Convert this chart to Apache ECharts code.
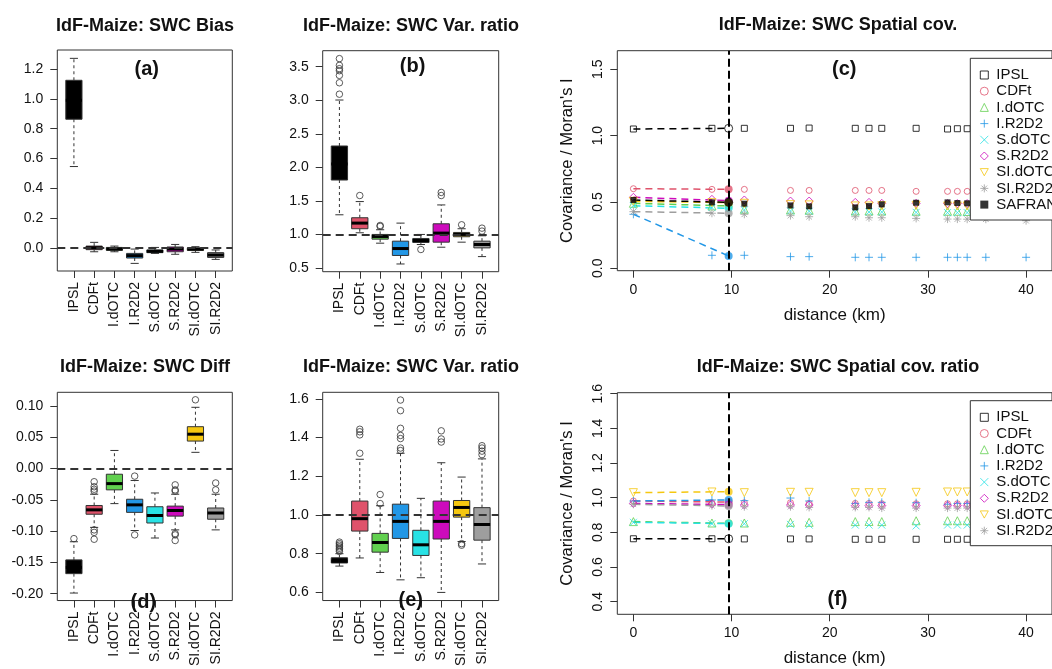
<!DOCTYPE html>
<html>
<head>
<meta charset="utf-8">
<title>IdF-Maize SWC diagnostics</title>
<script src="https://cdn.jsdelivr.net/npm/echarts@6/dist/echarts.min.js"></script>
<style>
  html, body { margin: 0; padding: 0; background: #ffffff; }
  #chart { width: 1052px; height: 669px; }
</style>
</head>
<body>
<div id="chart"></div>
<script>
// ---------------------------------------------------------------------------
// Data
// ---------------------------------------------------------------------------
const methods = ['IPSL', 'CDFt', 'I.dOTC', 'I.R2D2', 'S.dOTC', 'S.R2D2', 'SI.dOTC', 'SI.R2D2'];

// Box statistics per method: [lower whisker, Q1, median, Q3, upper whisker]
const biasStats = [
  [0.546, 0.863, 0.990, 1.124, 1.271],
  [-0.025, -0.011, 0.002, 0.013, 0.038],
  [-0.025, -0.015, -0.007, 0.004, 0.013],
  [-0.103, -0.067, -0.051, -0.036, -0.007],
  [-0.036, -0.031, -0.022, -0.013, 0.004],
  [-0.042, -0.025, -0.007, 0.007, 0.024],
  [-0.029, -0.016, -0.007, 0.000, 0.009],
  [-0.076, -0.063, -0.047, -0.031, -0.013]
];
const biasOutliers = [[], [], [], [], [], [], [], []];

const varStats = [
  [1.293, 1.811, 2.050, 2.318, 3.003],
  [1.025, 1.085, 1.169, 1.249, 1.490],
  [0.870, 0.930, 0.970, 1.000, 1.070],
  [0.560, 0.687, 0.790, 0.900, 1.169],
  [0.850, 0.880, 0.910, 0.940, 1.000],
  [0.810, 0.885, 1.020, 1.159, 1.440],
  [0.885, 0.966, 1.000, 1.030, 1.085],
  [0.670, 0.800, 0.850, 0.900, 0.980]
];
const varOutliers = [
  [3.62, 3.52, 3.47, 3.44, 3.37, 3.26, 3.09],
  [1.58],
  [1.134, 1.12],
  [],
  [0.776],
  [1.626, 1.58],
  [1.144],
  [1.094, 1.05]
];

const diffStats = [
  [-0.199, -0.168, -0.158, -0.146, -0.117],
  [-0.094, -0.073, -0.066, -0.059, -0.041],
  [-0.056, -0.034, -0.024, -0.009, 0.029],
  [-0.099, -0.070, -0.058, -0.049, -0.019],
  [-0.111, -0.087, -0.075, -0.061, -0.039],
  [-0.098, -0.076, -0.067, -0.060, -0.041],
  [0.026, 0.044, 0.055, 0.067, 0.098],
  [-0.098, -0.081, -0.071, -0.063, -0.041]
];
const diffOutliers = [
  [-0.112],
  [-0.021, -0.029, -0.033, -0.036, -0.098, -0.102, -0.113],
  [],
  [-0.012, -0.106],
  [],
  [-0.026, -0.034, -0.036, -0.104, -0.106, -0.115],
  [0.110],
  [-0.023, -0.034]
];

const ratioStats = [
  [0.736, 0.752, 0.762, 0.779, 0.800],
  [0.778, 0.917, 0.981, 1.072, 1.288],
  [0.703, 0.808, 0.858, 0.905, 1.048],
  [0.665, 0.879, 0.967, 1.056, 1.319],
  [0.676, 0.791, 0.846, 0.921, 1.086],
  [0.600, 0.876, 0.967, 1.072, 1.270],
  [0.863, 0.989, 1.039, 1.075, 1.196],
  [0.747, 0.870, 0.951, 1.038, 1.290]
];
const ratioOutliers = [
  [0.812, 0.820, 0.828, 0.836, 0.844, 0.852, 0.860],
  [1.443, 1.430, 1.414, 1.319],
  [1.106, 1.059],
  [1.594, 1.539, 1.448, 1.411, 1.395, 1.346, 1.333],
  [],
  [1.435, 1.393, 1.377],
  [0.852, 0.844],
  [1.358, 1.346, 1.330, 1.312]
];

// Spatial covariance by distance class (km)
const distances = [0, 8.0, 11.3, 16.0, 17.9, 22.6, 24.0, 25.3, 28.8, 32.0, 33.0, 34.0, 35.9, 40.0];
const meanDistance = 9.7;

const covIPSL   = [1.050, 1.055, 1.055, 1.055, 1.057, 1.055, 1.055, 1.055, 1.055, 1.050, 1.052, 1.052, 1.052, 1.052];
const covCDFt   = [0.600, 0.595, 0.595, 0.587, 0.587, 0.587, 0.587, 0.587, 0.580, 0.580, 0.580, 0.580, 0.578, 0.578];
const covIdOTC  = [0.490, 0.470, 0.445, 0.440, 0.438, 0.432, 0.432, 0.432, 0.430, 0.430, 0.430, 0.428, 0.428, 0.426];
const covIR2D2  = [0.407, 0.098, 0.098, 0.088, 0.088, 0.083, 0.083, 0.083, 0.083, 0.083, 0.083, 0.083, 0.083, 0.083];
const covSdOTC  = [0.472, 0.458, 0.440, 0.432, 0.430, 0.425, 0.425, 0.425, 0.422, 0.420, 0.420, 0.420, 0.418, 0.418];
const covSR2D2  = [0.535, 0.520, 0.515, 0.507, 0.507, 0.497, 0.497, 0.490, 0.490, 0.488, 0.488, 0.488, 0.486, 0.486];
const covSIdOTC = [0.505, 0.495, 0.490, 0.480, 0.478, 0.470, 0.470, 0.472, 0.475, 0.470, 0.470, 0.470, 0.468, 0.468];
const covSIR2D2 = [0.427, 0.415, 0.407, 0.397, 0.389, 0.389, 0.381, 0.381, 0.376, 0.371, 0.371, 0.370, 0.370, 0.359];
const covSAFRAN = [0.515, 0.497, 0.487, 0.474, 0.467, 0.459, 0.469, 0.482, 0.494, 0.497, 0.492, 0.490, 0.490, 0.490];
// Values at the mean neighbour distance, same order as the legend
const covAtMean = [1.055, 0.595, 0.470, 0.093, 0.452, 0.510, 0.495, 0.415, 0.497];

// Spatial covariance ratio (method / SAFRAN)
const ratioIPSL   = [0.763, 0.763, 0.762, 0.762, 0.762, 0.760, 0.760, 0.760, 0.760, 0.760, 0.760, 0.760, 0.760, 0.760];
const ratioCDFt   = [0.981, 0.971, 0.971, 0.971, 0.967, 0.967, 0.967, 0.965, 0.965, 0.965, 0.965, 0.965, 0.965, 0.965];
const ratioIdOTC  = [0.862, 0.854, 0.854, 0.858, 0.858, 0.862, 0.863, 0.862, 0.867, 0.867, 0.867, 0.867, 0.867, 0.867];
const ratioIR2D2  = [0.981, 0.987, 0.983, 0.998, 0.981, 0.967, 0.973, 0.973, 0.971, 0.962, 0.967, 0.967, 0.967, 0.967];
const ratioSdOTC  = [0.858, 0.850, 0.850, 0.846, 0.842, 0.842, 0.842, 0.842, 0.837, 0.842, 0.842, 0.842, 0.842, 0.842];
const ratioSR2D2  = [0.967, 0.963, 0.958, 0.958, 0.958, 0.954, 0.954, 0.954, 0.954, 0.954, 0.954, 0.954, 0.954, 0.954];
const ratioSIdOTC = [1.029, 1.033, 1.029, 1.031, 1.031, 1.029, 1.029, 1.029, 1.031, 1.033, 1.033, 1.033, 1.033, 1.033];
const ratioSIR2D2 = [0.962, 0.954, 0.948, 0.948, 0.944, 0.944, 0.944, 0.940, 0.940, 0.940, 0.940, 0.940, 0.940, 0.940];
const ratioAtMean = [0.763, 0.975, 0.852, 0.987, 0.850, 0.960, 1.035, 0.952];

// Tick values
const biasTicks = [0, 0.2, 0.4, 0.6, 0.8, 1.0, 1.2];
const varTicks = [0.5, 1.0, 1.5, 2.0, 2.5, 3.0, 3.5];
const diffTicks = [-0.20, -0.15, -0.10, -0.05, 0, 0.05, 0.10];
const ratioTicks = [0.6, 0.8, 1.0, 1.2, 1.4, 1.6];
const covTicks = [0, 0.5, 1.0, 1.5];
const covRatioTicks = [0.4, 0.6, 0.8, 1.0, 1.2, 1.4, 1.6];
const distanceTicks = [0, 10, 20, 30, 40];

// ---------------------------------------------------------------------------
// Styling
// ---------------------------------------------------------------------------
const FONT = '"Liberation Sans", Arial, Helvetica, sans-serif';
const TEXT = '#111111';
const FRAME = '#333333';
const methodColors = ['#000000', '#DF536B', '#61D04F', '#2297E6', '#28E2E5', '#CD0BBC', '#F5C710', '#9E9E9E'];

const spatialNames = methods.concat(['SAFRAN']);
const spatialColors = methodColors.concat(['#000000']);
const PLUS = 'path://M5,0L5,10M0,5L10,5';
const CROSS = 'path://M0,0L10,10M10,0L0,10';
const INV_TRI = 'path://M0,0L10,0L5,9Z';
const STAR = 'path://M5,0L5,10M0,5L10,5M1.5,1.5L8.5,8.5M8.5,1.5L1.5,8.5';
const spatialSymbols = ['rect', 'circle', 'triangle', PLUS, CROSS, 'diamond', INV_TRI, STAR, 'rect'];
const spatialSizes = [6, 6, 8, 8, 7, 8, 8, 8, 6];
const spatialFilled = [false, false, false, false, false, false, false, false, true];

// Plot regions: (a) (b) (c) / (d) (e) (f)
const gridRects = [
  { left: 57.3, top: 50, width: 175, height: 221 },
  { left: 322.7, top: 50.7, width: 176, height: 221 },
  { left: 617.3, top: 50.7, width: 450.7, height: 220 },
  { left: 57.3, top: 392.3, width: 175, height: 221.7 },
  { left: 322.7, top: 392.3, width: 176, height: 222 },
  { left: 617.3, top: 392.7, width: 450.7, height: 221.6 }
];

const boxPanels = [
  { grid: 0, stats: biasStats, outliers: biasOutliers, ref: 0, yMin: -0.154, yMax: 1.327, ticks: biasTicks, digits: 1 },
  { grid: 1, stats: varStats, outliers: varOutliers, ref: 1, yMin: 0.445, yMax: 3.738, ticks: varTicks, digits: 1 },
  { grid: 3, stats: diffStats, outliers: diffOutliers, ref: 0, yMin: -0.211, yMax: 0.122, ticks: diffTicks, digits: 2 },
  { grid: 4, stats: ratioStats, outliers: ratioOutliers, ref: 1, yMin: 0.558, yMax: 1.634, ticks: ratioTicks, digits: 1 }
];

const spatialPanels = [
  { grid: 2, values: [covIPSL, covCDFt, covIdOTC, covIR2D2, covSdOTC, covSR2D2, covSIdOTC, covSIR2D2, covSAFRAN],
    atMean: covAtMean, yMin: -0.018, yMax: 1.64, ticks: covTicks,
    legend: { left: 970.3, top: 58.3, padding: [8.7, 14, 7.4, 7.5] } },
  { grid: 5, values: [ratioIPSL, ratioCDFt, ratioIdOTC, ratioIR2D2, ratioSdOTC, ratioSR2D2, ratioSIdOTC, ratioSIR2D2],
    atMean: ratioAtMean, yMin: 0.327, yMax: 1.606, ticks: covRatioTicks,
    legend: { left: 970.3, top: 400.7, padding: [8.6, 14, 7, 7.5] } }
];

const titles = [
  { x: 145, y: 26, text: 'IdF-Maize: SWC Bias' },
  { x: 411, y: 26, text: 'IdF-Maize: SWC Var. ratio' },
  { x: 838, y: 25, text: 'IdF-Maize: SWC Spatial cov.' },
  { x: 145, y: 367, text: 'IdF-Maize: SWC Diff' },
  { x: 411, y: 367, text: 'IdF-Maize: SWC Var. ratio' },
  { x: 838, y: 367, text: 'IdF-Maize: SWC Spatial cov. ratio' }
];
const panelTags = [
  { x: 146.7, y: 69, text: '(a)' },
  { x: 412.6, y: 66, text: '(b)' },
  { x: 844.3, y: 69.2, text: '(c)' },
  { x: 143.3, y: 602.3, text: '(d)' },
  { x: 410.8, y: 600, text: '(e)' },
  { x: 837.5, y: 599.3, text: '(f)' }
];

// ---------------------------------------------------------------------------
// Option building
// ---------------------------------------------------------------------------
const xAxes = [];
const yAxes = [];
const series = [];
const legends = [];

// Axes sit on the plot frame, never on the zero of the other axis
const hiddenLine = { show: false, onZero: false };

function tickStyle() {
  return { show: true, inside: false, length: 7, lineStyle: { color: FRAME, width: 1 } };
}
function labelStyle(extra) {
  return Object.assign({ show: true, fontSize: 14, fontFamily: FONT, color: TEXT }, extra);
}

// Box-and-whisker glyph drawn through the axis scales
function renderBox(params, api) {
  const x = api.value(0);
  const lo = api.coord([x, api.value(1)]);
  const q1 = api.coord([x, api.value(2)]);
  const md = api.coord([x, api.value(3)]);
  const q3 = api.coord([x, api.value(4)]);
  const hi = api.coord([x, api.value(5)]);
  const boxHalf = api.size([0.8, 0], [x, api.value(3)])[0] / 2;
  const capHalf = boxHalf / 2;
  const cx = md[0];
  const fill = methodColors[params.dataIndex];
  const dashed = { stroke: FRAME, lineWidth: 1, lineDash: [3, 3] };
  const solid = { stroke: FRAME, lineWidth: 1 };
  return {
    type: 'group',
    children: [
      { type: 'line', shape: { x1: cx, y1: q3[1], x2: cx, y2: hi[1] }, style: dashed },
      { type: 'line', shape: { x1: cx, y1: q1[1], x2: cx, y2: lo[1] }, style: dashed },
      { type: 'line', shape: { x1: cx - capHalf, y1: hi[1], x2: cx + capHalf, y2: hi[1] }, style: solid },
      { type: 'line', shape: { x1: cx - capHalf, y1: lo[1], x2: cx + capHalf, y2: lo[1] }, style: solid },
      { type: 'rect', shape: { x: cx - boxHalf, y: q3[1], width: 2 * boxHalf, height: q1[1] - q3[1] },
        style: { fill: fill, stroke: FRAME, lineWidth: 1 } },
      { type: 'line', shape: { x1: cx - boxHalf, y1: md[1], x2: cx + boxHalf, y2: md[1] },
        style: { stroke: '#000000', lineWidth: 3 } }
    ]
  };
}

const methodPositions = methods.map((m, i) => i + 1);

boxPanels.forEach(p => {
  xAxes[p.grid] = {
    type: 'value', gridIndex: p.grid, min: 0.18, max: 8.82,
    axisLine: hiddenLine, splitLine: { show: false },
    axisTick: Object.assign(tickStyle(), { customValues: methodPositions }),
    axisLabel: labelStyle({
      customValues: methodPositions, rotate: 90, margin: 11,
      formatter: v => methods[Math.round(v) - 1]
    })
  };
  yAxes[p.grid] = {
    type: 'value', gridIndex: p.grid, min: p.yMin, max: p.yMax,
    axisLine: hiddenLine, splitLine: { show: false },
    axisTick: Object.assign(tickStyle(), { customValues: p.ticks }),
    axisLabel: labelStyle({ customValues: p.ticks, margin: 14, formatter: v => v.toFixed(p.digits) })
  };
  series.push({
    type: 'custom', xAxisIndex: p.grid, yAxisIndex: p.grid,
    renderItem: renderBox,
    encode: { x: 0, y: [1, 2, 3, 4, 5] },
    data: p.stats.map((s, i) => [i + 1].concat(s)),
    silent: true, z: 2
  });
  const outlierPoints = [];
  p.outliers.forEach((list, i) => list.forEach(v => outlierPoints.push([i + 1, v])));
  series.push({
    type: 'scatter', xAxisIndex: p.grid, yAxisIndex: p.grid,
    data: outlierPoints, symbol: 'circle', symbolSize: 6.5,
    itemStyle: { color: 'none', borderColor: FRAME, borderWidth: 1 },
    silent: true, z: 3,
    markLine: {
      silent: true, symbol: 'none', label: { show: false }, z: 5,
      lineStyle: { color: FRAME, width: 2, type: [8, 5] },
      emphasis: { disabled: true },
      data: [{ yAxis: p.ref }]
    }
  });
});

spatialPanels.forEach(p => {
  const g = p.grid;
  const count = p.values.length;
  xAxes[g] = {
    type: 'value', gridIndex: g, min: -1.64, max: 42.64,
    axisLine: hiddenLine, splitLine: { show: false },
    axisTick: Object.assign(tickStyle(), { customValues: distanceTicks }),
    axisLabel: labelStyle({ customValues: distanceTicks, margin: 12, formatter: v => String(Math.round(v)) }),
    name: 'distance (km)', nameLocation: 'middle', nameGap: 36,
    nameTextStyle: { fontSize: 17, fontFamily: FONT, color: TEXT }
  };
  yAxes[g] = {
    type: 'value', gridIndex: g, min: p.yMin, max: p.yMax,
    axisLine: hiddenLine, splitLine: { show: false },
    axisTick: Object.assign(tickStyle(), { customValues: p.ticks }),
    axisLabel: labelStyle({ customValues: p.ticks, rotate: 90, margin: 12, formatter: v => v.toFixed(1) }),
    name: "Covariance / Moran's I", nameLocation: 'middle', nameGap: 41, nameRotate: 90,
    nameTextStyle: { fontSize: 16.5, fontFamily: FONT, color: TEXT }
  };

  for (let i = 0; i < count; i++) {
    const col = spatialColors[i];
    // dashed link from the 0 km value to the value at the mean distance
    series.push({
      type: 'line', xAxisIndex: g, yAxisIndex: g, silent: true, z: 2,
      data: [[distances[0], p.values[i][0]], [meanDistance, p.atMean[i]]],
      symbol: 'none', lineStyle: { color: col, width: 1.5, type: [7, 5] }
    });
    series.push({
      type: 'scatter', name: spatialNames[i], xAxisIndex: g, yAxisIndex: g, silent: true, z: 3,
      data: distances.map((d, k) => [d, p.values[i][k]]),
      symbol: spatialSymbols[i], symbolSize: spatialSizes[i],
      itemStyle: spatialFilled[i]
        ? { color: col, borderWidth: 0 }
        : { color: 'none', borderColor: col, borderWidth: 1 }
    });
  }
  // markers at the mean distance
  const atMeanPoints = [];
  for (let i = 1; i < count; i++) {
    atMeanPoints.push({ value: [meanDistance, p.atMean[i]],
      symbolSize: spatialFilled[i] ? 9 : 8, itemStyle: { color: spatialColors[i] } });
  }
  series.push({
    type: 'scatter', xAxisIndex: g, yAxisIndex: g, silent: true, z: 4,
    data: atMeanPoints, symbol: 'circle'
  });
  series.push({
    type: 'scatter', xAxisIndex: g, yAxisIndex: g, silent: true, z: 4,
    data: [[meanDistance, p.atMean[0]]], symbol: 'circle', symbolSize: 8,
    itemStyle: { color: 'none', borderColor: spatialColors[0], borderWidth: 1 },
    markLine: {
      silent: true, symbol: 'none', label: { show: false }, z: 5,
      lineStyle: { color: '#000000', width: 2, type: [8, 4] },
      emphasis: { disabled: true },
      data: [{ xAxis: meanDistance }]
    }
  });

  legends.push({
    show: true, orient: 'vertical', selectedMode: false,
    left: p.legend.left, top: p.legend.top, padding: p.legend.padding,
    itemWidth: 8, itemHeight: 8, itemGap: 0.2,
    backgroundColor: '#ffffff', borderColor: FRAME, borderWidth: 1, borderRadius: 0,
    textStyle: { fontSize: 15, lineHeight: 16, fontFamily: FONT, color: TEXT, padding: [0, 0, 0, 3] },
    z: 10,
    data: spatialNames.slice(0, count).map((n, i) => ({
      name: n,
      icon: spatialSymbols[i],
      itemStyle: spatialFilled[i]
        ? { color: spatialColors[i], borderWidth: 0 }
        : { color: 'none', borderColor: spatialColors[i], borderWidth: 1 }
    }))
  });
});

const graphics = [];
titles.forEach(t => graphics.push({
  type: 'text', x: t.x, y: t.y, silent: true,
  style: { text: t.text, fill: TEXT, fontSize: 18, fontWeight: 'bold', fontFamily: FONT,
           align: 'center', verticalAlign: 'middle', textAlign: 'center', textVerticalAlign: 'middle' }
}));
panelTags.forEach(t => graphics.push({
  type: 'text', x: t.x, y: t.y, silent: true, z: 20,
  style: { text: t.text, fill: TEXT, fontSize: 20, fontWeight: 'bold', fontFamily: FONT,
           align: 'center', verticalAlign: 'middle', textAlign: 'center', textVerticalAlign: 'middle' }
}));

const option = {
  animation: false,
  backgroundColor: '#ffffff',
  textStyle: { fontFamily: FONT },
  grid: gridRects.map(r => Object.assign({ show: true, borderColor: FRAME, borderWidth: 1, backgroundColor: 'transparent', containLabel: false }, r)),
  xAxis: xAxes,
  yAxis: yAxes,
  legend: legends,
  graphic: graphics,
  series: series
};

const chart = echarts.init(document.getElementById('chart'), null, { renderer: 'canvas' });
chart.setOption(option);
</script>
</body>
</html>
